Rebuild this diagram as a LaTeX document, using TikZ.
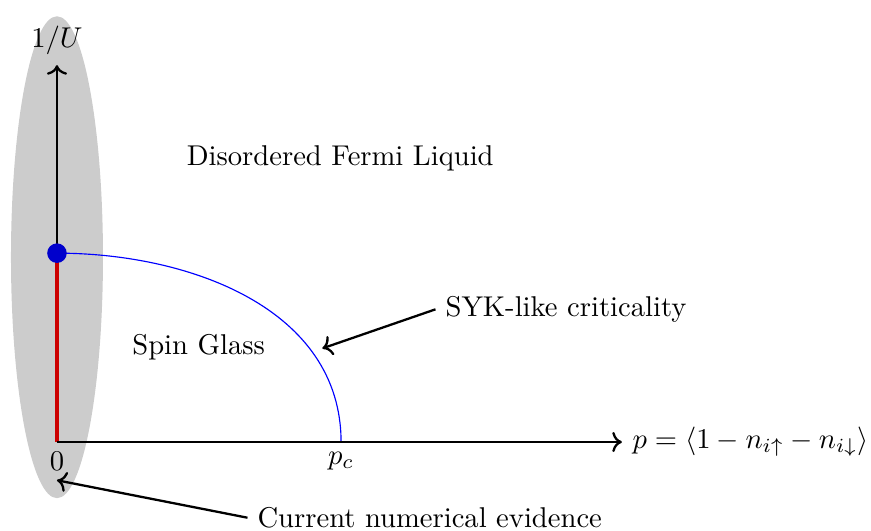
\documentclass[tikz,border=0pt]{standalone}
\usetikzlibrary{positioning, arrows.meta}
\definecolor{cvoile}{gray}{0.8}
\definecolor{cpoint}{rgb}{0,0,0.8}
\definecolor{cverre}{rgb}{0.8,0,0}

\begin{document}
\begin{tikzpicture}[x=1cm, y=1cm,
    axe/.style={->, thick},
    fleche/.style={->, thick},
    phase/.style={font=\normalsize}]
  \useasboundingbox (-0.70,-1.09) rectangle (10.0,5.43);

  % --- zone grisee des resultats numeriques, sous tout le reste ---------
  \fill[cvoile] (0,2.27) ellipse [x radius=0.565, y radius=2.96];

  % --- points de repere -------------------------------------------------
  \coordinate (O) at (0,0);
  \coordinate (ytop) at (0,4.63);
  \coordinate (xend) at (6.94,0);
  \coordinate (pc) at (3.49,0);
  \coordinate (crit) at (0,2.32);

  % --- ligne critique ---------------------------------------------------
  \draw[blue] (crit) to[out=0, in=90] (pc);

  % --- verre de spin, le long de l'axe vertical -------------------------
  \draw[cverre, line width=1.5pt] (O) -- (crit);

  % --- axes -------------------------------------------------------------
  \draw[axe] (crit) -- (ytop) node[above] (lu) {$1/U$};
  \draw[axe] (O) -- (xend)
       node[right] (lp) {$p=\langle 1-n_{i\uparrow}-n_{i\downarrow}\rangle$};
  \node[below] (l0) at (O) {$0$};
  \node[below] (lpc) at (pc) {$p_c$};

  \node[circle, fill=cpoint, inner sep=0pt, minimum size=0.24cm] (dot) at (crit) {};

  % --- phases -----------------------------------------------------------
  \node[phase] (fl) at (3.48,3.49) {Disordered Fermi Liquid};
  \node[phase] (sg) at (1.74,1.17) {Spin Glass};

  % --- legendes avec fleches --------------------------------------------
  \node[anchor=west] (syk) at (4.65,1.63) {SYK-like criticality};
  \coordinate (sykpt) at (3.26,1.15);
  \draw[fleche] (syk.west) -- (sykpt);

  \node[anchor=west] (num) at (2.34,-0.93) {Current numerical evidence};
  \coordinate (numpt) at (0,-0.47);
  \draw[fleche] (num.west) -- (numpt);
\end{tikzpicture}
\end{document}
